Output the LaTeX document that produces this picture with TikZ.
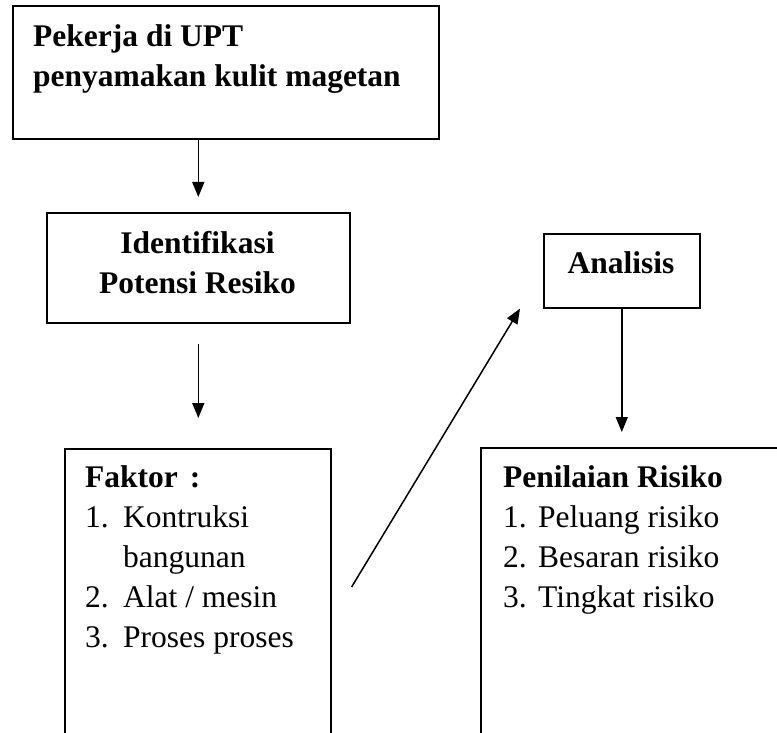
\documentclass[tikz,border=0pt]{standalone}
\usepackage{fontspec}
\setmainfont{Liberation Serif}
\usepackage{array}
\usetikzlibrary{arrows.meta, calc, positioning}

\begin{document}
\begin{tikzpicture}[x=1pt, y=-1pt,
	kotak/.style={draw=black, line width=1.6pt, inner sep=0pt, anchor=north west},
	teks/.style={inner sep=0pt, font=\fontsize{31.5}{40}\selectfont},
	panah/.style={line width=1.5pt, -{Triangle[length=15pt, width=12pt]}}
]
			\useasboundingbox (0,0) rectangle (777,733);
			\clip (0,0) rectangle (777,733);

			% kotak-kotak
			\node[kotak, minimum width=426pt, minimum height=133pt] (pekerja) at (12,5) {};
			\node[kotak, minimum width=303pt, minimum height=110pt] (identifikasi) at (46,212) {};
			\node[kotak, minimum width=266pt, minimum height=320pt] (faktor) at (64,448) {};
			\node[kotak, minimum width=156pt, minimum height=74pt] (analisis) at (543,233) {};
			\node[kotak, minimum width=320pt, minimum height=300pt] (penilaian) at (480,447) {};

			% isi teks
			\node[teks, anchor=base west] (tPekerja) at (33,47) {\begin{tabular}[t]{@{}l@{}}
				\bfseries Pekerja di UPT\\
				\bfseries penyamakan kulit magetan
			\end{tabular}};
			\node[teks, anchor=base] (tIdentifikasi) at (197.5,253) {\begin{tabular}[t]{@{}c@{}}
				\bfseries Identifikasi\\
				\bfseries Potensi Resiko
			\end{tabular}};
			\node[teks, anchor=base] (tAnalisis) at (621,273) {\bfseries Analisis};
			\node[teks, anchor=base west] (tFaktor) at (85,487) {\begin{tabular}[t]{@{}p{38pt}@{}l@{}}
				\multicolumn{2}{@{}l@{}}{\bfseries Faktor\hspace{12pt}:}\\
				1. & Kontruksi\\
				   & bangunan\\
				2. & Alat / mesin\\
				3. & Proses proses
			\end{tabular}};
			\node[teks, anchor=base west] (tPenilaian) at (503,487) {\begin{tabular}[t]{@{}p{35pt}@{}l@{}}
				\multicolumn{2}{@{}l@{}}{\bfseries Penilaian Risiko}\\
				1. & Peluang risiko\\
				2. & Besaran risiko\\
				3. & Tingkat risiko
			\end{tabular}};

			% panah
			\coordinate (awal) at ($(faktor.north east)+(20,139)$);
			\coordinate (ujung) at ($(analisis.south west)+(-23,0)$);

			\draw[panah] (pekerja.south -| identifikasi.north) -- ([yshift=15pt]identifikasi.north);
			\draw[panah] ([yshift=-20pt]identifikasi.south) -- ([yshift=30pt]faktor.north -| identifikasi.south);
			\draw[panah] (awal) -- (ujung);
			\draw[panah] (analisis.south) -- ([yshift=15pt]penilaian.north -| analisis.south);

\end{tikzpicture}
\end{document}
